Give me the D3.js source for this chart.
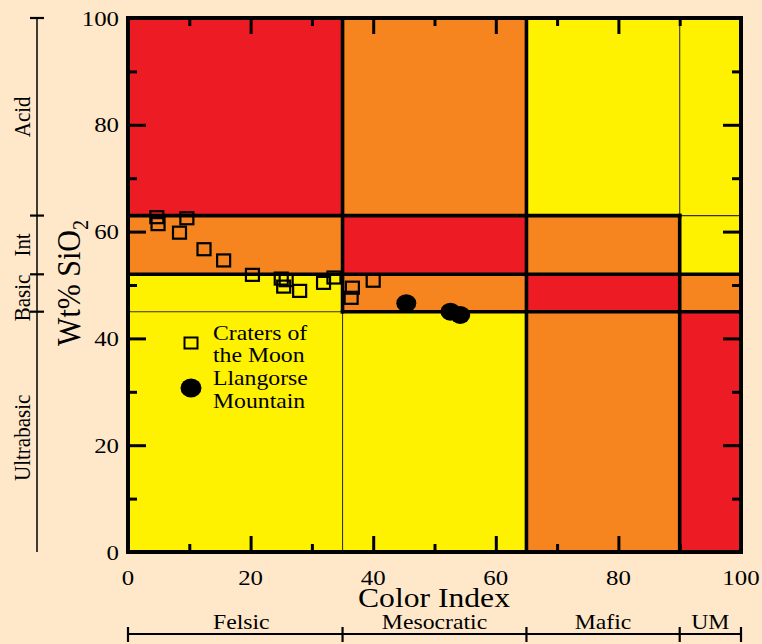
<!DOCTYPE html>
<html><head><meta charset="utf-8">
<script src="https://cdn.jsdelivr.net/npm/d3@7"></script>
<style>body{margin:0;background:#FFE8CA;} svg{display:block;}</style>
</head><body>
<svg id="c" width="762" height="644"></svg>
<script>
// ---- data ----
const colBreaks = [0, 35, 65, 90, 100];
const rowBreaks = [0, 45, 52, 63, 100];
// zone codes bottom row first, columns left to right
const zoneRows = [
  ["Y","Y","O","R"],
  ["Y","O","R","O"],
  ["O","R","O","Y"],
  ["R","O","Y","Y"]
];
const thickSegs = [
  {x1:35,y1:45,x2:35,y2:100},{x1:65,y1:0,x2:65,y2:100},{x1:90,y1:0,x2:90,y2:63},
  {x1:0,y1:63,x2:90,y2:63},{x1:0,y1:52,x2:100,y2:52},{x1:35,y1:45,x2:100,y2:45}
];
const thinSegs = [
  {x1:35,y1:0,x2:35,y2:45},{x1:90,y1:63,x2:90,y2:100},
  {x1:0,y1:45,x2:35,y2:45},{x1:90,y1:63,x2:100,y2:63}
];
const cratersX = [4.7, 4.9, 9.6, 8.4, 12.4, 15.6, 20.3, 25.0, 25.8, 25.4, 28.0, 31.9, 33.6, 36.6, 36.4, 40.0];
const cratersY = [62.7, 61.4, 62.5, 59.8, 56.7, 54.6, 51.9, 51.2, 50.9, 49.7, 48.9, 50.4, 51.4, 49.5, 47.6, 50.8];
const llanX = [45.4, 52.6, 54.2];
const llanY = [46.6, 45.0, 44.4];
const xTicks = [0, 20, 40, 60, 80, 100];
const yTicks = [0, 20, 40, 60, 80, 100];
const minorTicks = [10, 30, 50, 70, 90];
const silicaGroups = [{lo:0,hi:45,label:"Ultrabasic"},{lo:45,hi:52,label:"Basic"},{lo:52,hi:63,label:"Int"},{lo:63,hi:100,label:"Acid"}];
const silicaMarks = [45, 52, 63, 100];
const colorGroups = [{lo:0,hi:35,label:"Felsic"},{lo:35,hi:65,label:"Mesocratic"},{lo:65,hi:90,label:"Mafic"},{lo:90,hi:100,label:"UM"}];
const colorMarks = [0, 35, 65, 90, 100];

// ---- styles ----
const zoneColor = {R:"#ED1C24", O:"#F6851F", Y:"#FFF200"};
const FONT = "'Liberation Serif','Times New Roman',serif";
const SX = 1.13;

const svg = d3.select("#c");
const x = d3.scaleLinear().domain([0,100]).range([128,741]);
const y = d3.scaleLinear().domain([0,100]).range([552,18]);

// zones
zoneRows.forEach((row, ri) => {
  row.forEach((code, ci) => {
    svg.append("rect")
      .attr("x", x(colBreaks[ci])).attr("y", y(rowBreaks[ri+1]))
      .attr("width", x(colBreaks[ci+1]) - x(colBreaks[ci]))
      .attr("height", y(rowBreaks[ri]) - y(rowBreaks[ri+1]))
      .attr("fill", zoneColor[code]);
  });
});
svg.selectAll("line.thin").data(thinSegs).join("line")
  .attr("x1", d=>x(d.x1)).attr("y1", d=>y(d.y1)).attr("x2", d=>x(d.x2)).attr("y2", d=>y(d.y2))
  .attr("stroke", "#333").attr("stroke-width", 1.1);
svg.selectAll("line.thick").data(thickSegs).join("line")
  .attr("x1", d=>x(d.x1)).attr("y1", d=>y(d.y1)).attr("x2", d=>x(d.x2)).attr("y2", d=>y(d.y2))
  .attr("stroke", "#000").attr("stroke-width", 3.6).attr("stroke-linecap","square");

// ticks (inside, all four sides)
function ticks(axisGen, tr, vals, size) {
  const g = svg.append("g").attr("transform", tr)
    .call(axisGen.tickValues(vals).tickSize(size).tickFormat(""));
  g.select(".domain").remove();
  g.selectAll(".tick line").attr("stroke","#000").attr("stroke-width",3);
}
const inner = xTicks.filter(v => v > 0 && v < 100);
ticks(d3.axisBottom(x), `translate(0,${y(0)})`, inner, -16);
ticks(d3.axisBottom(x), `translate(0,${y(0)})`, minorTicks, -8);
ticks(d3.axisTop(x), `translate(0,${y(100)})`, inner, -16);
ticks(d3.axisTop(x), `translate(0,${y(100)})`, minorTicks, -8);
const innerY = yTicks.filter(v => v > 0 && v < 100);
ticks(d3.axisLeft(y), `translate(${x(0)},0)`, innerY, -18);
ticks(d3.axisLeft(y), `translate(${x(0)},0)`, minorTicks, -9);
ticks(d3.axisRight(y), `translate(${x(100)},0)`, innerY, -18);
ticks(d3.axisRight(y), `translate(${x(100)},0)`, minorTicks, -9);

// frame
svg.append("rect").attr("x", x(0)).attr("y", y(100))
  .attr("width", x(100)-x(0)).attr("height", y(0)-y(100))
  .attr("fill","none").attr("stroke","#000").attr("stroke-width",4);

// text helper with horizontal stretch
function txt(px, py, s, size, anchor, rot) {
  const g = svg.append("g").attr("transform", `translate(${px},${py})` + (rot ? " rotate(-90)" : ""));
  const t = g.append("text").attr("font-family", FONT).attr("font-size", size)
    .attr("text-anchor", anchor||"start").attr("fill","#000")
    .attr("transform", rot ? `scale(1,${SX})` : `scale(${SX},1)`);
  if (typeof s === "string") t.text(s);
  return t;
}

// tick labels
xTicks.forEach(v => txt(x(v), 585, String(v), 22, "middle"));
yTicks.forEach(v => txt(119, y(v)+7.5, String(v), 22, "end"));

// axis titles
txt(434, 607, "Color Index", 28, "middle");
const yt = txt(80, 283, null, 30, "middle", true);
yt.append("tspan").text("Wt% SiO");
yt.append("tspan").attr("font-size", 20).attr("dy", 7).text("2");

// left silica bracket
svg.append("line").attr("x1",37).attr("x2",37).attr("y1",y(100)).attr("y2",y(0))
  .attr("stroke","#000").attr("stroke-width",1.5);
svg.selectAll("line.sm").data(silicaMarks).join("line")
  .attr("x1",30).attr("x2",44).attr("y1",d=>y(d)).attr("y2",d=>y(d))
  .attr("stroke","#000").attr("stroke-width",2.2);
silicaGroups.forEach(gp => {
  let cy = y((gp.lo+gp.hi)/2);
  if (gp.label === "Basic") cy += 5;
  if (gp.label === "Ultrabasic") cy += 6;
  txt(30, cy, gp.label, 21, "middle", true);
});

// bottom color-index bracket
svg.append("line").attr("x1",x(0)).attr("x2",x(100)).attr("y1",634).attr("y2",634)
  .attr("stroke","#000").attr("stroke-width",2.2);
svg.selectAll("line.cm").data(colorMarks).join("line")
  .attr("x1",d=>x(d)).attr("x2",d=>x(d)).attr("y1",627).attr("y2",642)
  .attr("stroke","#000").attr("stroke-width",2.2);
colorGroups.forEach(gp => {
  txt((x(gp.lo)+x(gp.hi))/2 + (gp.label==="Felsic"?6:0), 629, gp.label, 21, "middle");
});

// data points
const craters = cratersX.map((v,i)=>({x:v,y:cratersY[i]}));
const llan = llanX.map((v,i)=>({x:v,y:llanY[i]}));
svg.selectAll("rect.cr").data(craters).join("rect")
  .attr("x", d=>x(d.x)-6.5).attr("y", d=>y(d.y)-6).attr("width",13).attr("height",12)
  .attr("fill","none").attr("stroke","#000").attr("stroke-width",2.2);
svg.selectAll("ellipse.ll").data(llan).join("ellipse")
  .attr("cx", d=>x(d.x)).attr("cy", d=>y(d.y)).attr("rx",10).attr("ry",9).attr("fill","#000");

// legend
svg.append("rect").attr("x",184.5).attr("y",337.5).attr("width",13).attr("height",11)
  .attr("fill","none").attr("stroke","#000").attr("stroke-width",2);
svg.append("ellipse").attr("cx",191).attr("cy",388).attr("rx",10.5).attr("ry",9.5).attr("fill","#000");
txt(213, 340, "Craters of", 21);
txt(213, 362, "the Moon", 21);
txt(213, 385, "Llangorse", 21);
txt(213, 408, "Mountain", 21);
</script>
</body></html>
